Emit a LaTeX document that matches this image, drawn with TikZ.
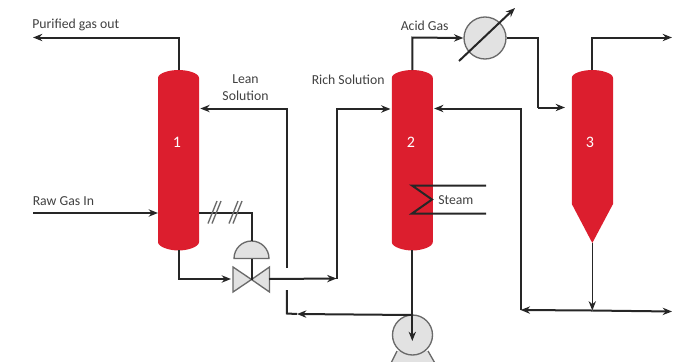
\documentclass[tikz,border=0pt]{standalone}
\usepackage{fontspec}
\setmainfont{Carlito}
\usetikzlibrary{arrows.meta}
\definecolor{tower}{HTML}{DC1E2E}
\definecolor{equip}{HTML}{E2E2E2}
\definecolor{edge}{HTML}{6A6A6A}
\definecolor{pipe}{HTML}{262626}
\definecolor{lbl}{HTML}{404040}
\tikzset{
  x=0.75pt,y=-0.75pt,
  pipeline/.style={draw=pipe,line width=1.5pt,line join=miter},
  flow/.style={pipeline,-{Stealth[length=7pt,width=5.5pt]}},
  hash/.style={draw=edge,line width=1pt},
  equipment/.style={draw=edge,fill=equip,line width=1pt},
  towerbox/.style={minimum width=30.75pt,minimum height=135pt,inner sep=0pt,outer sep=0pt},
  tag/.style={text=lbl,font=\fontsize{10.3}{12.6}\selectfont,inner sep=0pt,align=center},
  num/.style={text=white,font=\fontsize{12}{14}\selectfont,inner sep=0pt},
  roundcol/.pic={
    \fill[tower] (-20.5,78) .. controls (-20.5,73) and (-9,70) .. (0,70)
      .. controls (9,70) and (20.5,73) .. (20.5,78) -- (20.5,242)
      .. controls (20.5,247) and (9,250.5) .. (0,250.5)
      .. controls (-9,250.5) and (-20.5,247) .. (-20.5,242) -- cycle;
  }
}
\begin{document}
\begin{tikzpicture}
\useasboundingbox (0,0) rectangle (684,361);
\clip (0,0) rectangle (684,361);
% towers
\pic at (178.5,0) {roundcol};
\pic at (412.3,0) {roundcol};
\fill[tower] (571.8,78) .. controls (571.8,73) and (583,70) .. (592.3,70)
  .. controls (601,70) and (613,73) .. (613,78) -- (613,204) -- (592.3,243) -- (571.8,204) -- cycle;
\node[towerbox] (c1) at (178.5,160) {};
\node[towerbox] (c2) at (412.3,160) {};
\node[towerbox,minimum height=129.75pt] (c3) at (592.3,156.5) {};
\node[num] (n1) at (177,142) {1};
\node[num] (n2) at (411,142) {2};
\node[num] (n3) at (590,142) {3};
% equipment
\node[equipment,circle,minimum size=31.5pt,inner sep=0pt] (hx) at (485,38) {};
\fill[equip] (397,351) -- (428,351) -- (436,365) -- (390,365) -- cycle;
\draw[edge,line width=1pt] (397,351) -- (390,365) (428,351) -- (436,365);
\node[equipment,circle,minimum size=30pt,inner sep=0pt] (pump) at (412.5,335) {};
\draw[equipment] (233,267) -- (251.5,279.5) -- (233,292) -- cycle;
\draw[equipment] (269.5,267) -- (251.5,279.5) -- (269.5,292) -- cycle;
\draw[equipment] (234,258.5) arc (180:360:17.5) -- cycle;
% free points
\coordinate (valve) at (251.5,279.5);
\coordinate (act) at (251.5,241);
\coordinate (actb) at (251.5,258.5);
\coordinate (pur) at (33,37.5);
\coordinate (purc) at (178.5,37.5);
\coordinate (rawin) at (33,213);
\coordinate (sigc) at (251.5,213);
\coordinate (botc) at (178.5,279);
\coordinate (vin) at (231,279);
\coordinate (vout) at (269,279);
\coordinate (rmid) at (336.5,278.5);
\coordinate (rc) at (336.5,109);
\coordinate (leanb) at (286.8,268);
\coordinate (leant) at (286.8,108.5);
\coordinate (retb) at (286.8,290);
\coordinate (retc) at (286.8,313.5);
\coordinate (reta) at (297,314);
\coordinate (pumpt) at (412.3,315);
\coordinate (pumpa) at (412.3,341);
\coordinate (acidc) at (412.3,37.5);
\coordinate (hxo) at (537.5,38);
\coordinate (hxd) at (537.5,107.5);
\coordinate (c3in) at (565,107.5);
\coordinate (c3t) at (592.3,37.5);
\coordinate (c3o) at (672,37.5);
\coordinate (rett) at (520.7,108.5);
\coordinate (retl) at (520.7,310);
\coordinate (retr) at (672,311.5);
\coordinate (c3r) at (592.3,310.5);
% connectors
\draw[flow] (c1.north) -- (purc) -- (pur);
\draw[flow] (rawin) -- (c1.west |- rawin);
\draw[pipeline] (c1.east |- rawin) -- (sigc) -- (act);
\draw[pipeline] (actb) -- (valve);
\draw[flow] (c1.south) -- (botc) -- (vin);
\draw[flow] (vout) -- (rmid);
\draw[flow] (rmid) -- (rc) -- ([xshift=-1pt]c2.west |- rc);
\draw[flow] (leanb) -- (leant) -- ([xshift=1pt]c1.east |- leant);
\draw[flow] (pumpt) -- (reta);
\draw[pipeline] (reta) -- (retc) -- (retb);
\draw[flow] (c2.south) -- (pumpa);
\draw[flow] (c2.north) -- (acidc) -- (hx.west);
\draw[pipeline] (hx.east) -- (hxo) -- (hxd);
\draw[flow] (hxd) -- (c3in);
\draw[flow] (c3.north) -- (c3t) -- (c3o);
\draw[flow] (retl) -- (rett) -- ([xshift=1pt]c2.east |- rett);
\draw[flow] (c3r) -- (retl);
\draw[flow] (c3r) -- (retr);
\draw[flow,line width=1.2pt] (c3.south) -- (c3r);
% temperature control arrow
\coordinate (ta) at (459,61);
\coordinate (tb) at (515,8);
\draw[flow] (ta) -- (tb);
% steam coil
\coordinate (s1) at (486,185.5);
\coordinate (s2) at (412,185.5);
\coordinate (s3) at (432,199.5);
\coordinate (s4) at (412,213.5);
\coordinate (s5) at (486,213.5);
\draw[pipeline] (s1) -- (s2) -- (s3) -- (s4) -- (s5);
% hash marks
\draw[hash] (208,223.5) -- (217,201) (212,223.5) -- (221,201);
\draw[hash] (229,223.5) -- (238,201) (233,223.5) -- (242,201);
% labels
\node[tag,anchor=west] (l1) at (32,25) {Purified gas out};
\node[tag] (l2) at (245.5,87.5) {Lean\\Solution};
\node[tag,anchor=west] (l3) at (311.5,80) {Rich Solution};
\node[tag,anchor=west] (l4) at (400.5,26) {Acid Gas};
\node[tag,anchor=west] (l5) at (32.5,201) {Raw Gas In};
\node[tag,anchor=west] (l6) at (438,200) {Steam};
\end{tikzpicture}
\end{document}
